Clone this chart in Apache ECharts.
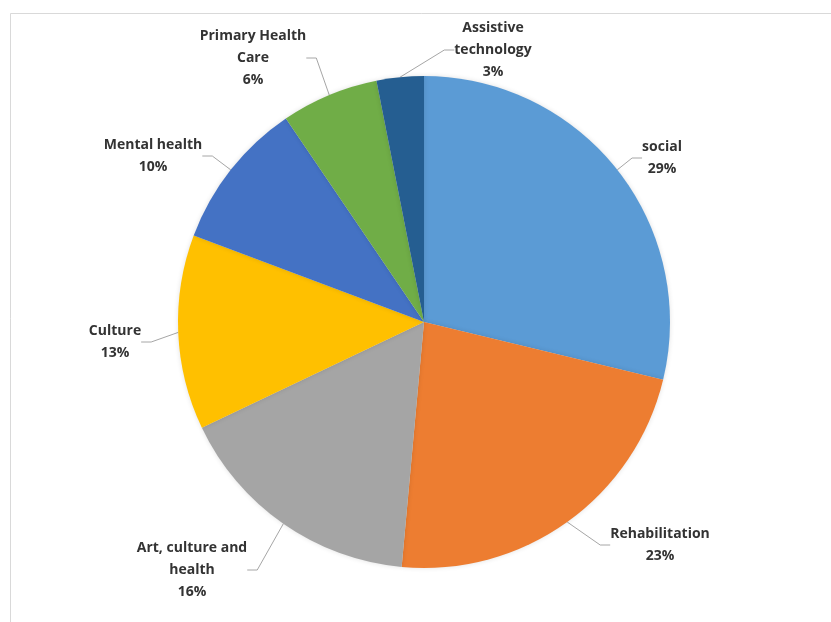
<!DOCTYPE html>
<html>
<head>
<meta charset="utf-8">
<script src="https://cdn.jsdelivr.net/npm/echarts@6/dist/echarts.min.js"></script>
<style>html,body{margin:0;padding:0;background:#fff}#c{width:831px;height:622px}</style>
</head>
<body>
<div id="c"></div>
<script>
var categories = ['social', 'Rehabilitation', 'Art, culture and\nhealth', 'Culture', 'Mental health', 'Primary Health\nCare', 'Assistive\ntechnology'];
var values = [28.8, 22.7, 16.5, 12.8, 9.8, 6.4, 3.1];
var colors = ['#5B9BD5', '#ED7D31', '#A5A5A5', '#FFC000', '#4472C4', '#70AD47', '#255E91'];
// label anchor positions (layout only)
var labelPos = [[662,158],[660,545],[192,570],[115,342],[153,156],[253,58],[493,50]];

var chart = echarts.init(document.getElementById('c'));
chart.setOption({
  backgroundColor: '#fff',
  animation: false,
  graphic: [{
    type: 'rect', left: 8, top: 11,
    shape: {width: 900, height: 700},
    style: {fill: 'none', stroke: '#d9d9d9', lineWidth: 1}
  }],
  series: [{
    type: 'pie',
    center: [424, 322],
    radius: 246,
    startAngle: 90,
    clockwise: true,
    percentPrecision: 0,
    data: categories.map(function (c, i) {
      return {name: c, value: values[i], itemStyle: {color: colors[i]}};
    }),
    itemStyle: {borderWidth: 0, shadowBlur: 5, shadowColor: 'rgba(0,0,0,0.12)'},
    label: {
      show: true,
      formatter: '{b}\n{d}%',
      fontFamily: 'Open Sans, Liberation Sans, Arial, sans-serif',
      fontWeight: 'bold',
      fontSize: 14,
      lineHeight: 22,
      color: '#333',
      align: 'center'
    },
    labelLine: {show: true, length: 15, length2: 10, lineStyle: {color: '#a6a6a6', width: 1}},
    labelLayout: function (p) {
      var pos = labelPos[p.dataIndex];
      return {x: pos[0], y: pos[1], align: 'center', verticalAlign: 'middle'};
    },
    emphasis: {disabled: true}
  }]
});
</script>
</body>
</html>
